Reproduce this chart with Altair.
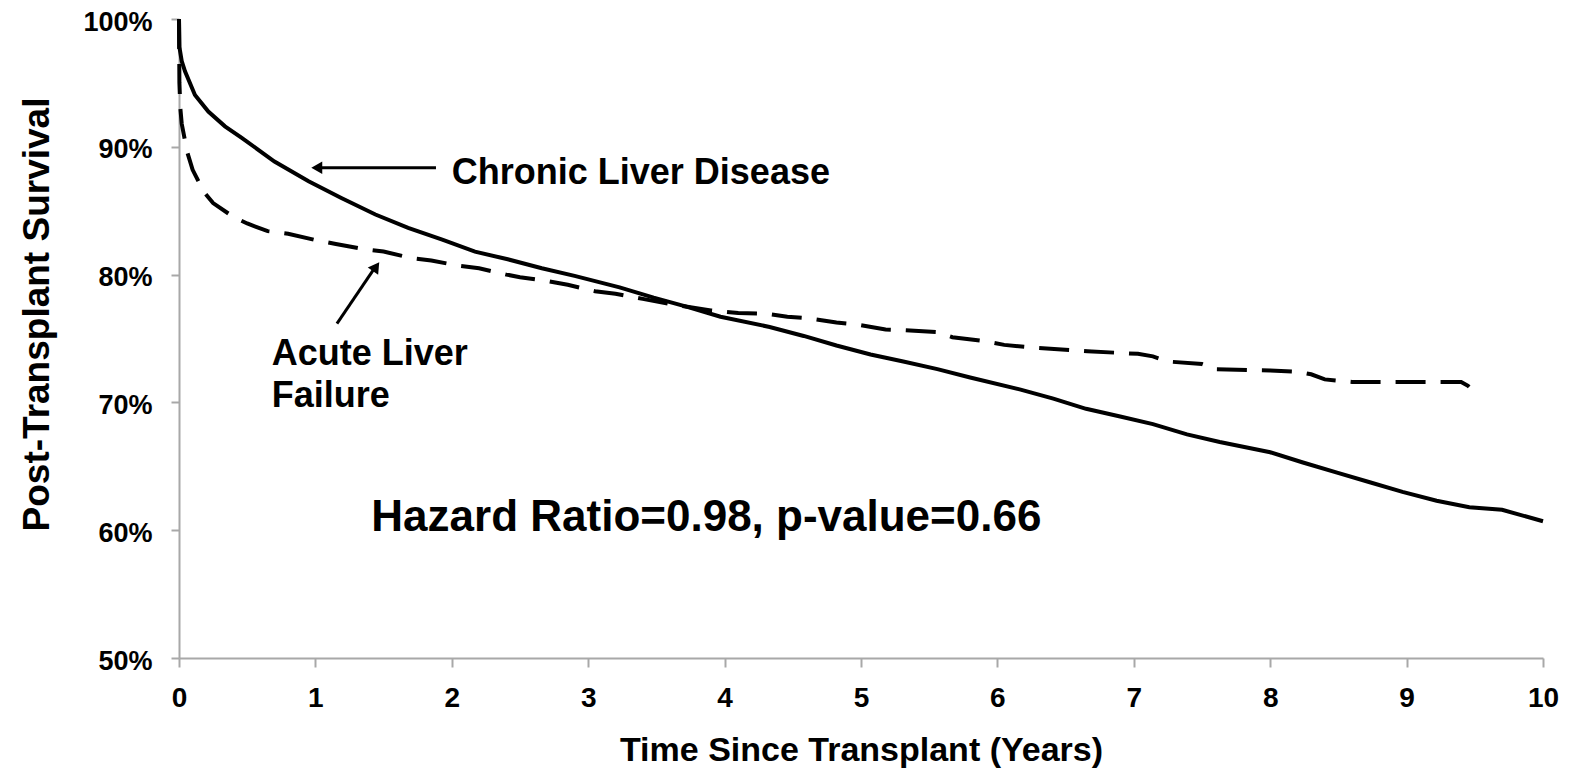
import altair as alt
import pandas as pd

# ---- data ----
chronic_t = [0, 0.003, 0.02, 0.044, 0.117, 0.215, 0.337, 0.46, 0.70, 0.95, 1.19, 1.44, 1.68,
             1.93, 2.17, 2.41, 2.66, 2.9, 3.23, 3.48, 3.72, 3.97, 4.33, 4.58, 4.82, 5.07,
             5.31, 5.56, 5.8, 6.17, 6.41, 6.65, 6.9, 7.14, 7.39, 7.63, 8.0, 8.24, 8.49,
             8.73, 8.97, 9.22, 9.46, 9.7, 10.0]
chronic_s = [100, 97.8, 96.7, 95.9, 94.06, 92.76, 91.6, 90.7, 88.85, 87.3, 86.0, 84.7, 83.65,
             82.73, 81.8, 81.2, 80.5, 79.9, 79.0, 78.2, 77.5, 76.7, 75.9, 75.2, 74.45, 73.75,
             73.2, 72.6, 71.95, 71.0, 70.3, 69.5, 68.9, 68.3, 67.5, 66.9, 66.1, 65.3, 64.5,
             63.75, 63.0, 62.3, 61.8, 61.6, 60.7]

acute_t = [0, 0.003, 0.01, 0.02, 0.06, 0.1, 0.18, 0.25, 0.4, 0.5, 0.65, 0.8, 1.0, 1.15,
           1.35, 1.5, 1.7, 1.85, 2.05, 2.2, 2.4, 2.5, 2.7, 2.85, 3.05, 3.2, 3.4, 3.6, 3.9,
           4.1, 4.3, 4.46, 4.6, 4.82, 4.97, 5.18, 5.31, 5.56, 5.67, 5.9, 6.05, 6.25, 6.66,
           7.03, 7.14, 7.25, 7.5, 7.6, 8.0, 8.2, 8.3, 8.4, 8.6, 9.4, 9.45, 9.5, 9.52]
acute_s = [100, 95, 93, 91.8, 89.6, 88.2, 86.5, 85.6, 84.5, 84.0, 83.4, 83.2, 82.7, 82.4,
           82.0, 81.8, 81.3, 81.1, 80.7, 80.5, 80.0, 79.8, 79.5, 79.2, 78.7, 78.5, 78.1, 77.7,
           77.2, 77.0, 76.95, 76.7, 76.6, 76.25, 76.1, 75.7, 75.65, 75.5, 75.1, 74.8, 74.5,
           74.3, 74.0, 73.8, 73.6, 73.2, 73.0, 72.6, 72.5, 72.4, 72.2, 71.8, 71.6, 71.6,
           71.3, 70.8, 70.4]

x_ticks = [0, 1, 2, 3, 4, 5, 6, 7, 8, 9, 10]
y_ticks = [0.5, 0.6, 0.7, 0.8, 0.9, 1.0]

# annotation texts (position in data units: years, survival %)
label_text = ["Chronic Liver Disease", "Acute Liver", "Failure"]
label_t = [2.0, 0.68, 0.68]
label_s = [87.97, 73.75, 70.47]
stat_text = ["Hazard Ratio=0.98, p-value=0.66"]
stat_t = [1.41]
stat_s = [60.94]

# arrows: shaft start/end and head (data units)
arrow_id = ["c", "c", "a", "a"]
arrow_t = [1.884, 1.03, 1.158, 1.43]
arrow_s = [88.36, 88.36, 76.17, 80.45]
head_t = [1.01, 1.445]
head_s = [88.36, 80.62]

FONT = "Liberation Sans"

df_c = pd.DataFrame({"t": chronic_t, "s": [v / 100 for v in chronic_s]})
df_a = pd.DataFrame({"t": acute_t, "s": [v / 100 for v in acute_s]})
df_lab = pd.DataFrame({"t": label_t, "s": [v / 100 for v in label_s], "txt": label_text})
df_stat = pd.DataFrame({"t": stat_t, "s": [v / 100 for v in stat_s], "txt": stat_text})
df_arrow = pd.DataFrame({"t": arrow_t, "s": [v / 100 for v in arrow_s], "id": arrow_id})
df_head1 = pd.DataFrame({"t": head_t[:1], "s": [head_s[0] / 100]})
df_head2 = pd.DataFrame({"t": head_t[1:], "s": [head_s[1] / 100]})

xs = alt.Scale(domain=[0, 10], nice=False, zero=False)
ys = alt.Scale(domain=[0.5, 1.0], nice=False, zero=False)

AX = "#a8a8a8"
x_axis = alt.Axis(values=x_ticks, format="d", title="Time Since Transplant (Years)",
                  labelFont=FONT, labelFontSize=28, labelFontWeight="bold", labelColor="black",
                  labelPadding=17, titleFont=FONT, titleFontSize=34, titleFontWeight="bold",
                  titleColor="black", titleY=92, titleBaseline="middle",
                  domainColor=AX, domainWidth=2, tickColor=AX, tickWidth=2, tickSize=9,
                  grid=False, labelFlush=False)
y_axis = alt.Axis(values=y_ticks, format=".0%", title="Post-Transplant Survival",
                  labelFont=FONT, labelFontSize=27, labelFontWeight="bold", labelColor="black",
                  labelPadding=19, labelOffset=3, titleFont=FONT, titleFontSize=37,
                  titleFontWeight="bold",
                  titleColor="black", titleX=-142, titleY=295, titleAngle=-90,
                  titleBaseline="middle", titleAlign="center",
                  domainColor=AX, domainWidth=2, tickColor=AX, tickWidth=2, tickSize=8,
                  grid=False, labelFlush=False)

X = alt.X("t:Q", scale=xs, axis=x_axis)
Y = alt.Y("s:Q", scale=ys, axis=y_axis)
Xn = alt.X("t:Q", scale=xs)
Yn = alt.Y("s:Q", scale=ys)

solid = alt.Chart(df_c).mark_line(color="black", strokeWidth=4).encode(x=X, y=Y)
dashed = alt.Chart(df_a).mark_line(color="black", strokeWidth=4, strokeDash=[30, 15]).encode(x=Xn, y=Yn)
shafts = alt.Chart(df_arrow).mark_line(color="black", strokeWidth=3).encode(x=Xn, y=Yn, detail="id:N")
head1 = alt.Chart(df_head1).mark_point(shape="triangle-left", filled=True, size=160,
                                       color="black", opacity=1).encode(x=Xn, y=Yn)
head2 = alt.Chart(df_head2).mark_point(shape="triangle-up", angle=35, filled=True, size=160,
                                       color="black", opacity=1).encode(x=Xn, y=Yn)
labels = alt.Chart(df_lab).mark_text(font=FONT, fontSize=36, fontWeight="bold", align="left",
                                     baseline="middle", color="black").encode(x=Xn, y=Yn, text="txt:N")
stat = alt.Chart(df_stat).mark_text(font=FONT, fontSize=44, fontWeight="bold", align="left",
                                    baseline="middle", color="black").encode(x=Xn, y=Yn, text="txt:N")

chart = alt.layer(solid, dashed, shafts, head1, head2, labels, stat).properties(
    width=1364, height=639,
    padding={"left": 171, "top": 11, "right": 18, "bottom": 111},
    autosize=alt.AutoSizeParams(type="none"),
    background="white",
).configure_view(stroke=None)

chart.save("out.html", embed_options={"renderer": "svg", "actions": False})
